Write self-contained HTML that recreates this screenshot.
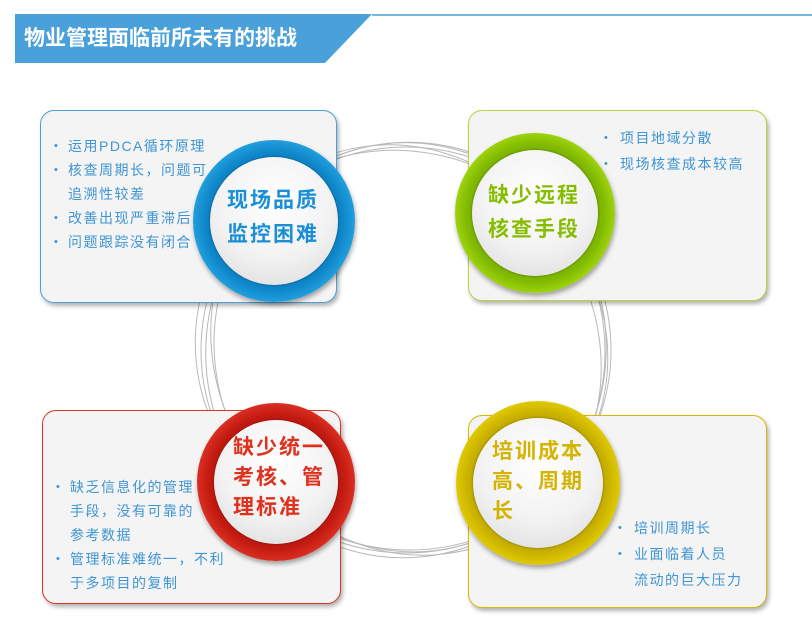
<!DOCTYPE html><html><head><meta charset="utf-8"><style>
body{margin:0;width:812px;height:632px;background:#fff;position:relative;overflow:hidden;font-family:"Liberation Sans","Noto Sans CJK SC",sans-serif}
.box{position:absolute;background:#f4f4f4;border-radius:14px;box-shadow:2px 3px 4px rgba(0,0,0,.3);border:1.5px solid}
.t{position:absolute;color:#3f95d4;font-size:14px;letter-spacing:1.5px;line-height:24px;white-space:nowrap}
.b{position:absolute;color:#3f95d4;font-size:11px}
.c{position:absolute;border-radius:50%;box-shadow:1px 3px 5px rgba(0,0,0,.35)}
.c .in{position:absolute;left:17px;top:17px;right:17px;bottom:17px;border-radius:50%;background:radial-gradient(circle at 50% 35%,#fff 0%,#f2f2f2 55%,#d8d8d8 100%);box-shadow:0 0 3px rgba(0,0,0,.4)}
.ct{position:absolute;font-weight:bold;font-size:21px;line-height:34px;letter-spacing:2px}
</style></head><body>
<svg width="812" height="632" style="position:absolute;left:0;top:0">
<polygon points="15,14 372,14 325,63 15,63" fill="#4aa1d9"/>
<line x1="372" y1="15" x2="812" y2="15" stroke="#4aa1d9" stroke-width="1.5"/>
<g fill="none" stroke="#b8b8b8" stroke-width="1">
<ellipse cx="406" cy="350" rx="205" ry="203"/>
<ellipse cx="406" cy="350" rx="200" ry="208" transform="rotate(10 406 350)"/>
<ellipse cx="410" cy="348" rx="195" ry="205" transform="rotate(-12 406 350)"/>
<ellipse cx="402" cy="352" rx="208" ry="198" transform="rotate(25 406 350)"/>
<ellipse cx="406" cy="350" rx="190" ry="210" transform="rotate(-30 406 350)"/>
</g>
</svg>
<div style="position:absolute;left:24px;top:24px;color:#fff;font-size:21px;font-weight:bold;line-height:30px">物业管理面临前所未有的挑战</div>

<div class="box" style="left:40px;top:110px;width:295px;height:191px;border-color:#4a9fd8"></div>
<div class="box" style="left:468px;top:110px;width:297px;height:189px;border-color:#b9d43c"></div>
<div class="box" style="left:42px;top:410px;width:297px;height:192px;border-color:#d9352a"></div>
<div class="box" style="left:468px;top:415px;width:297px;height:191px;border-color:#d6b800"></div>

<div class="b" style="left:54px;top:134px;line-height:24px">•<br>•<br><br>•<br>•</div>
<div class="t" style="left:68px;top:134px">运用PDCA循环原理<br>核查周期长，问题可<br>追溯性较差<br>改善出现严重滞后<br>问题跟踪没有闭合</div>

<div class="b" style="left:604px;top:125px;line-height:26px">•<br>•</div>
<div class="t" style="left:620px;top:125px;line-height:26px">项目地域分散<br>现场核查成本较高</div>

<div class="b" style="left:56px;top:475px;line-height:24px">•<br><br><br>•</div>
<div class="t" style="left:70px;top:475px">缺乏信息化的管理<br>手段，没有可靠的<br>参考数据<br>管理标准难统一，不利<br>于多项目的复制</div>

<div class="b" style="left:618px;top:515px;line-height:26px">•<br>•</div>
<div class="t" style="left:634px;top:515px;line-height:26px">培训周期长<br>业面临着人员<br>流动的巨大压力</div>

<div class="c" style="left:193px;top:140px;width:162px;height:162px;background:radial-gradient(circle,#0f86c9 60%,#2eb4ef 80%,#0a70b0 100%)"><div class="in"></div><div class="ct" style="left:34px;top:44px;color:#1a8fd6">现场品质<br>监控困难</div></div>
<div class="c" style="left:455px;top:133px;width:160px;height:160px;background:radial-gradient(circle,#7fb800 60%,#b8ea1a 80%,#6ea000 100%)"><div class="in"></div><div class="ct" style="left:33px;top:46px;color:#86bd00">缺少远程<br>核查手段</div></div>
<div class="c" style="left:197px;top:403px;width:158px;height:158px;background:radial-gradient(circle,#c21a10 60%,#f04030 80%,#a81208 100%)"><div class="in"></div><div class="ct" style="left:36px;top:30px;color:#e0301e;line-height:30px">缺少统一<br>考核、管<br>理标准</div></div>
<div class="c" style="left:456px;top:401px;width:164px;height:164px;background:radial-gradient(circle,#c8b000 60%,#f5e000 80%,#a89000 100%)"><div class="in"></div><div class="ct" style="left:36px;top:36px;color:#d4b400;line-height:30px">培训成本<br>高、周期<br>长</div></div>
</body></html>
